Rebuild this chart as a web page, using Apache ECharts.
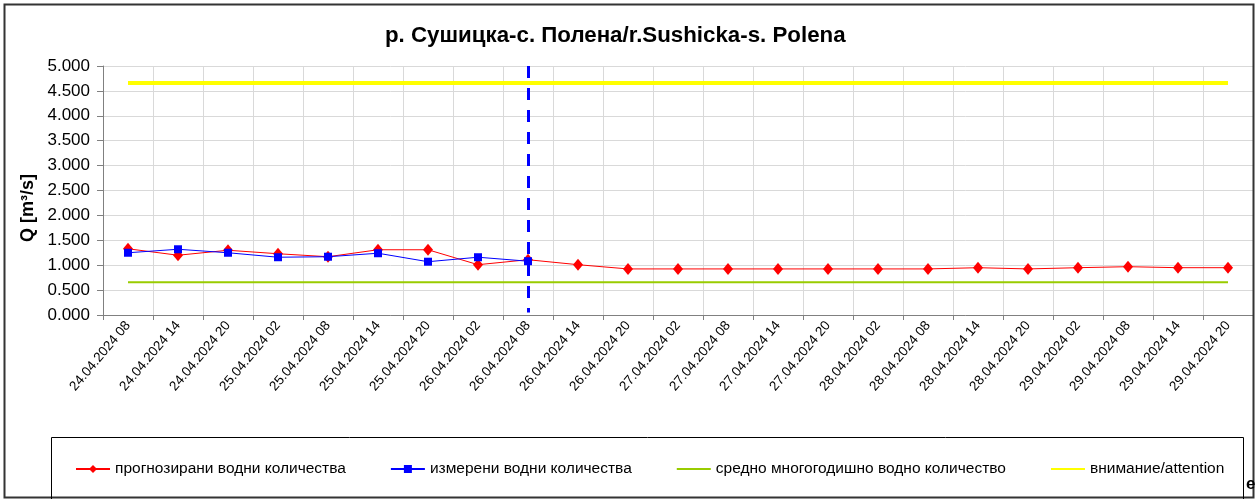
<!DOCTYPE html>
<html>
<head>
<meta charset="utf-8">
<script src="https://cdn.jsdelivr.net/npm/echarts@6/dist/echarts.min.js"></script>
<style>
  html, body { margin: 0; padding: 0; background: #fff; }
  #chart { width: 1256px; height: 499px; }
</style>
</head>
<body>
<div id="chart"></div>
<script>
const categories = [
  '24.04.2024 08', '24.04.2024 14', '24.04.2024 20',
  '25.04.2024 02', '25.04.2024 08', '25.04.2024 14', '25.04.2024 20',
  '26.04.2024 02', '26.04.2024 08', '26.04.2024 14', '26.04.2024 20',
  '27.04.2024 02', '27.04.2024 08', '27.04.2024 14', '27.04.2024 20',
  '28.04.2024 02', '28.04.2024 08', '28.04.2024 14', '28.04.2024 20',
  '29.04.2024 02', '29.04.2024 08', '29.04.2024 14', '29.04.2024 20'
]
// прогнозирани водни количества
const forecast = [1.33, 1.20, 1.30, 1.23, 1.17, 1.31, 1.31, 1.01, 1.11, 1.01, 0.925,
  0.925, 0.925, 0.925, 0.925, 0.925, 0.925, 0.95, 0.925, 0.95, 0.97, 0.95, 0.95]
// измерени водни количества
const measured = [1.25, 1.32, 1.25, 1.16, 1.17, 1.24, 1.07, 1.16, 1.08]
const avgFlow = 0.66
const attentionLevel = 4.66
const nowIndex = 8

const chart = echarts.init(document.getElementById('chart'))
const font = '"Liberation Sans", Arial, sans-serif'

chart.setOption({
  animation: false,
  backgroundColor: '#fff',
  textStyle: { fontFamily: font },
  title: {
    text: 'р. Сушицка-с. Полена/r.Sushicka-s. Polena',
    left: 380,
    top: 20,
    textStyle: { fontFamily: font, fontSize: 22.3, fontWeight: 'bold', color: '#000' }
  },
  grid: { left: 103, right: 3, top: 66, bottom: 184 },
  legend: {
    left: 70,
    top: 456,
    itemWidth: 34,
    itemHeight: 10,
    itemGap: 44,
    textStyle: { fontFamily: font, fontSize: 15.5, color: '#000' },
    data: ['прогнозирани водни количества', 'измерени водни количества', 'средно многогодишно водно количество', 'внимание/attention']
  },
  xAxis: {
    type: 'category',
    data: categories,
    boundaryGap: true,
    axisLine: { lineStyle: { color: '#808080', width: 1 } },
    axisTick: { show: true, length: 5, lineStyle: { color: '#808080' } },
    axisLabel: { rotate: 50, interval: 0, fontSize: 13.5, color: '#000', fontFamily: font, margin: 8 },
    splitLine: { show: true, lineStyle: { color: '#d9d9d9' } }
  },
  yAxis: {
    type: 'value',
    min: 0,
    max: 5,
    interval: 0.5,
    axisLine: { show: true, lineStyle: { color: '#808080' } },
    axisTick: { show: true, length: 6, lineStyle: { color: '#808080' } },
    axisLabel: { fontSize: 17, color: '#000', fontFamily: font, margin: 13, formatter: v => v.toFixed(3) },
    splitLine: { show: true, lineStyle: { color: '#d9d9d9', width: 1 } }
  },
  graphic: [
    { type: 'rect', shape: { x: 4.5, y: 4.5, width: 1249, height: 493 }, style: { fill: 'none', stroke: '#333', lineWidth: 2 }, z: 100 },
    { type: 'rect', shape: { x: 51.5, y: 437.5, width: 1192, height: 70 }, style: { fill: 'none', stroke: '#000', lineWidth: 1 }, z: 100 },
    { type: 'text', x: 1246, y: 476, style: { text: 'e', font: 'bold 17px ' + font, fill: '#000' }, z: 100 },
    {
      type: 'text', x: 28, y: 208, rotation: Math.PI / 2,
      style: { text: 'Q [m³/s]', font: 'bold 18px ' + font, fill: '#000', textAlign: 'center', textVerticalAlign: 'middle' }
    }
  ],
  series: [
    {
      name: 'внимание/attention',
      type: 'line',
      data: categories.map(() => attentionLevel),
      symbol: 'none',
      lineStyle: { color: '#ffff00', width: 4 },
      itemStyle: { color: 'rgba(0,0,0,0)' },
      emphasis: { disabled: true },
      z: 1
    },
    {
      name: 'средно многогодишно водно количество',
      type: 'line',
      data: categories.map(() => avgFlow),
      symbol: 'none',
      lineStyle: { color: '#99cc00', width: 2 },
      itemStyle: { color: 'rgba(0,0,0,0)' },
      emphasis: { disabled: true },
      z: 2
    },
    {
      name: 'прогнозирани водни количества',
      type: 'line',
      data: forecast,
      symbol: 'diamond',
      symbolSize: [10, 12],
      lineStyle: { color: '#ff0000', width: 1 },
      itemStyle: { color: '#ff0000' },
      emphasis: { disabled: true },
      z: 3
    },
    {
      name: 'измерени водни количества',
      type: 'line',
      data: measured,
      symbol: 'rect',
      symbolSize: 8,
      lineStyle: { color: '#0000ff', width: 1 },
      itemStyle: { color: '#0000ff' },
      emphasis: { disabled: true },
      z: 4,
      markLine: {
        silent: true,
        symbol: 'none',
        label: { show: false },
        lineStyle: { color: '#0000ff', width: 3, type: [12, 10] },
        data: [[{ xAxis: nowIndex, yAxis: 5 }, { xAxis: nowIndex, yAxis: 0.05 }]]
      }
    }
  ]
})
</script>
</body>
</html>
